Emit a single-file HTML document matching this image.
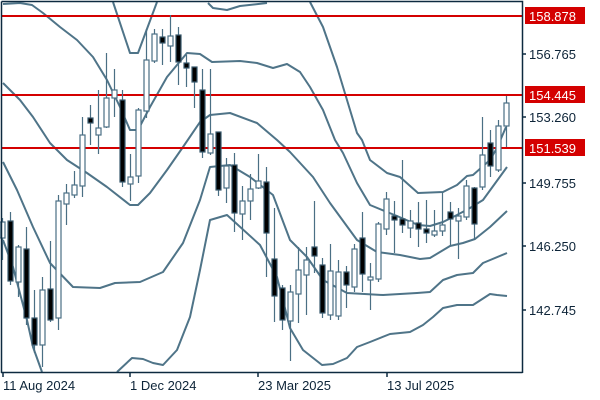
<!DOCTYPE html>
<html><head><meta charset="utf-8"><style>
html,body{margin:0;padding:0;background:#fff;width:600px;height:400px;overflow:hidden}
svg{display:block}
text{font-family:"Liberation Sans","DejaVu Sans",sans-serif;font-size:13px}
</style></head><body>
<svg width="600" height="400" viewBox="0 0 600 400" xmlns="http://www.w3.org/2000/svg">
<rect width="600" height="400" fill="#fff"/>
<g fill="none" stroke="#4f7488" stroke-width="2" stroke-linejoin="round">
<polyline points="113,2 130,53 138,53 157,2"/>
<polyline points="208,3 213,8 227,10 240,6 267,3"/>
<polyline points="310,2 323,27 337,67 347,100 357,133 362,140 370,160 387,173 400,177 418,193 443,192 457,185 467,176 473,175 490,160 497,148 506,127"/>
<polyline points="3,4 20,3 32,5 43,13 60,27 77,40 93,57 107,80 120,107 130,130 138,130 150,107 167,77 187,53 200,54 212,62 240,61 257,63 273,68 287,64 300,72 310,87 323,110 335,140 343,153 357,183 370,205 387,212 397,216 418,225 430,226 443,222 457,215 470,208 483,200 507,167"/>
<polyline points="3,83 20,100 33,117 50,143 67,160 87,173 107,187 130,205 138,205 150,193 167,170 183,147 200,122 210,115 230,113 257,123 277,140 290,152 313,177 330,203 357,240 377,252 400,255 420,259 430,258 450,246 463,243 475,239 490,227 507,211"/>
<polyline points="3,162 17,190 33,227 50,263 73,287 100,288 115,283 140,282 163,272 183,243 200,200 210,167 230,165 250,177 273,195 290,240 307,257 323,280 347,293 383,295 417,293 430,292 443,280 457,275 473,273 483,263 507,253"/>
<polyline points="3,240 13,267 27,320 33,347 42,372"/>
<polyline points="117,372 132,358 143,359 153,363 163,365 177,350 190,317 200,270 210,220 227,215 260,245 277,277 290,328 303,350 322,365 333,364 347,358 357,347 370,342 390,334 410,332 423,325 433,317 443,308 457,305 473,305 490,294 497,295 507,296"/>
</g>
<g stroke="#d40000" stroke-width="2">
<line x1="2" y1="16" x2="522" y2="16"/>
<line x1="2" y1="95" x2="522" y2="95"/>
<line x1="2" y1="148" x2="522" y2="148"/>
</g>
<g stroke="#4a6f84" stroke-width="1.2">
<path d="M2.5 218V260M10.5 212V285M18.5 245V297M26.5 227V325M34.5 290V353M42.5 277V367M50.5 241V322M58.5 195V330M66.5 184V225M74.5 171V198M82.5 117V197M90.5 105V145M98.5 90V154M106.5 53V128M114.5 69V117M122.5 90V187M130.5 154V201M138.5 108V183M146.5 29V118M154.5 29V63M162.5 29V65M170.5 15V62M178.5 27V85M186.5 55V87M194.5 67V108M202.5 69V158M210.5 69V155M218.5 132V196M226.5 158V203M234.5 153V232M242.5 186V240M250.5 174V220M258.5 154V189M266.5 167V277M274.5 208V322M282.5 285V330M290.5 285V361M298.5 247V323M306.5 247V315M314.5 201V273M322.5 258V318M330.5 244V320M338.5 260V320M346.5 266V308M354.5 244V292M362.5 212V292M370.5 263V310M378.5 222V282M386.5 192V235M394.5 201V253M402.5 160V233M410.5 210V238M418.5 202V247M426.5 200V243M434.5 210V237M442.5 192V236M450.5 202V245M458.5 208V259M466.5 180V220M474.5 187V240M482.5 117V190M490.5 130V177M498.5 120V172M506.5 96V147"/>
</g>
<g stroke="#4a6f84" stroke-width="1.2" fill="#fff">
<rect x="0" y="222" width="5" height="16"/>
<rect x="16" y="247" width="5" height="35"/>
<rect x="40" y="290" width="5" height="55"/>
<rect x="56" y="201" width="5" height="117"/>
<rect x="64" y="193" width="5" height="11"/>
<rect x="72" y="185" width="5" height="10"/>
<rect x="80" y="135" width="5" height="51"/>
<rect x="96" y="128" width="5" height="7"/>
<rect x="104" y="98" width="5" height="29"/>
<rect x="112" y="90" width="5" height="8"/>
<rect x="128" y="177" width="5" height="7"/>
<rect x="136" y="110" width="5" height="66"/>
<rect x="144" y="60" width="5" height="51"/>
<rect x="152" y="34" width="5" height="27"/>
<rect x="168" y="36" width="5" height="10"/>
<rect x="208" y="134" width="5" height="19"/>
<rect x="224" y="166" width="5" height="22"/>
<rect x="240" y="201" width="5" height="13"/>
<rect x="248" y="189" width="5" height="12"/>
<rect x="256" y="181" width="5" height="7"/>
<rect x="288" y="292" width="5" height="29"/>
<rect x="296" y="270" width="5" height="24"/>
<rect x="304" y="260" width="5" height="15"/>
<rect x="328" y="271" width="5" height="44"/>
<rect x="336" y="272" width="5" height="44"/>
<rect x="352" y="249" width="5" height="38"/>
<rect x="368" y="277" width="5" height="3"/>
<rect x="376" y="224" width="5" height="55"/>
<rect x="384" y="199" width="5" height="30"/>
<rect x="408" y="221" width="5" height="7"/>
<rect x="432" y="231" width="5" height="4"/>
<rect x="440" y="225" width="5" height="6"/>
<rect x="456" y="216" width="5" height="5"/>
<rect x="464" y="186" width="5" height="31"/>
<rect x="480" y="155" width="5" height="32"/>
<rect x="496" y="126" width="5" height="44"/>
<rect x="504" y="103" width="5" height="23"/>
</g>
<g stroke="#3a5a6e" stroke-width="1.2" fill="#000">
<rect x="8" y="221" width="5" height="60"/>
<rect x="24" y="249" width="5" height="69"/>
<rect x="32" y="318" width="5" height="27"/>
<rect x="48" y="289" width="5" height="31"/>
<rect x="88" y="118" width="5" height="5"/>
<rect x="120" y="100" width="5" height="82"/>
<rect x="160" y="37" width="5" height="6"/>
<rect x="176" y="35" width="5" height="27"/>
<rect x="184" y="63" width="5" height="5"/>
<rect x="192" y="67" width="5" height="15"/>
<rect x="200" y="90" width="5" height="62"/>
<rect x="216" y="132" width="5" height="58"/>
<rect x="232" y="165" width="5" height="48"/>
<rect x="264" y="182" width="5" height="51"/>
<rect x="272" y="259" width="5" height="37"/>
<rect x="280" y="288" width="5" height="32"/>
<rect x="312" y="247" width="5" height="9"/>
<rect x="320" y="265" width="5" height="48"/>
<rect x="344" y="272" width="5" height="13"/>
<rect x="360" y="238" width="5" height="36"/>
<rect x="392" y="216" width="5" height="4"/>
<rect x="400" y="219" width="5" height="6"/>
<rect x="416" y="223" width="5" height="6"/>
<rect x="424" y="229" width="5" height="4"/>
<rect x="448" y="212" width="5" height="7"/>
<rect x="472" y="188" width="5" height="36"/>
<rect x="488" y="143" width="5" height="23"/>
</g>
<g stroke="#0d2a40" stroke-width="1.5" fill="none">
<path d="M1.5 1.5H522.5V373M1 372.5H522.5M1.5 1.5V373"/>
<path d="M522 54h4M522 117h4M522 183h4M522 246h4M522 310h4M3 373v4M130 373v4M258 373v4M387 373v4"/>
</g>
<g fill="#d40000">
<rect x="525" y="7" width="60" height="17"/>
<rect x="525" y="86" width="60" height="17"/>
<rect x="525" y="139" width="60" height="17"/>
</g>
<g fill="#fff">
<text x="529" y="21">158.878</text>
<text x="529" y="100">154.445</text>
<text x="529" y="153">151.539</text>
</g>
<g fill="#0d2438">
<text x="529" y="59">156.765</text>
<text x="529" y="122">153.260</text>
<text x="529" y="188">149.755</text>
<text x="529" y="251">146.250</text>
<text x="529" y="315">142.745</text>
<text x="3" y="390">11 Aug 2024</text>
<text x="130" y="390">1 Dec 2024</text>
<text x="258" y="390">23 Mar 2025</text>
<text x="387" y="390">13 Jul 2025</text>
</g>
</svg>
</body></html>
